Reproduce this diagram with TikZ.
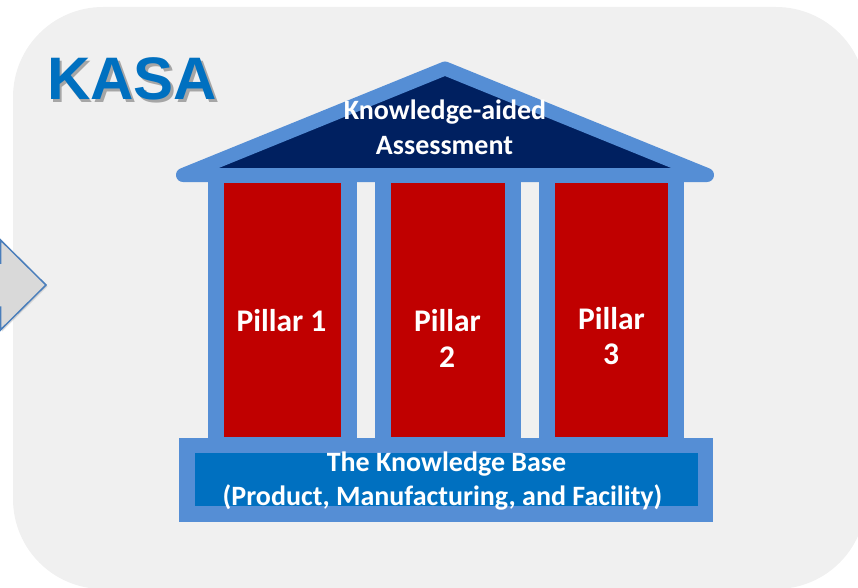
\documentclass[tikz,border=0pt]{standalone}
\usepackage{fontspec}
\setmainfont{Carlito}
\newfontfamily\headfont{Liberation Sans}
\usetikzlibrary{shadows}

\definecolor{panelgray}{HTML}{F0F0F0}
\definecolor{trimblue}{HTML}{558ED5}
\definecolor{roofnavy}{HTML}{002060}
\definecolor{pillarred}{HTML}{C00000}
\definecolor{baseblue}{HTML}{0070C0}
\definecolor{arrowgray}{HTML}{D9D9D9}
\definecolor{arrowedge}{HTML}{4A7EBB}
\definecolor{titleshade}{HTML}{A6A6A6}

% heading text with a soft offset shadow, set in one box
\newcommand{\shadedtitle}[1]{%
  \makebox[0pt][l]{\hspace{2.5pt}\raisebox{-2.5pt}{\textcolor{titleshade}{#1}}}%
  \textcolor{baseblue}{#1}}

\begin{document}
\begin{tikzpicture}[x=1pt,y=-1pt,
  column/.style={draw=trimblue, line width=16pt, fill=pillarred, inner sep=0pt, outer sep=0pt},
  slab/.style={inner sep=0pt, outer sep=0pt},
  rooftext/.style={text=white, font=\bfseries\fontsize{28}{34}\selectfont, inner sep=0pt, anchor=base},
  pillartext/.style={text=white, font=\bfseries\fontsize{31.5}{36}\selectfont, inner sep=0pt, anchor=base},
  titletext/.style={font=\headfont\bfseries\fontsize{60}{60}\selectfont, inner sep=0pt, anchor=base west},
]
\useasboundingbox (0,0) rectangle (858,588);

\begin{scope}
  \clip (0,0) rectangle (858,588);
  % rounded panel
  \fill[panelgray, rounded corners=90pt] (13,7) rectangle (866,589);
  % incoming block arrow on the left edge
  \draw[arrowedge, line width=1.5pt, fill=arrowgray, line join=miter,
        drop shadow={opacity=0.25, shadow xshift=1.5pt, shadow yshift=-1.5pt}]
    (-12,263) -- (0.5,263) -- (0.5,240) -- (46,285) -- (0.5,330) -- (0.5,307) -- (-12,307) -- cycle;
\end{scope}

% title
\node[titletext] (title) at (47,100) {\shadedtitle{KASA}};

% columns
\node[column, minimum width=133pt, minimum height=270pt] (col1) at (282.5,310) {};
\node[column, minimum width=130pt, minimum height=270pt] (col2) at (448,310) {};
\node[column, minimum width=129pt, minimum height=270pt] (col3) at (611.5,310) {};

% foundation
\node[slab, fill=trimblue, minimum width=534.3pt, minimum height=84pt] (base) at (446.15,479.7) {};
\node[slab, fill=baseblue, minimum width=503.3pt, minimum height=52.7pt] (baseinner) at (446.65,479.65) {};

% roof
\draw[trimblue, line width=14pt, line join=round, fill=roofnavy]
  (183,175) coordinate (eaveL) -- (445,68.5) coordinate (ridge) -- (707,175) coordinate (eaveR) -- cycle;

% labels
\node[rooftext] (roof1) at (445,120) {Knowledge-aided};
\node[rooftext] (roof2) at (444.5,155) {Assessment};

\node[pillartext] (p1) at (281.5,331) {Pillar 1};
\node[pillartext] (p2a) at (447.5,331) {Pillar};
\node[pillartext] (p2b) at (447,367) {2};
\node[pillartext] (p3a) at (611.5,329) {Pillar};
\node[pillartext] (p3b) at (611,364) {3};

\node[rooftext] (base1) at (446.5,471) {The Knowledge Base};
\node[rooftext] (base2) at (442.5,505.7) {(Product, Manufacturing, and Facility)};
\end{tikzpicture}
\end{document}
